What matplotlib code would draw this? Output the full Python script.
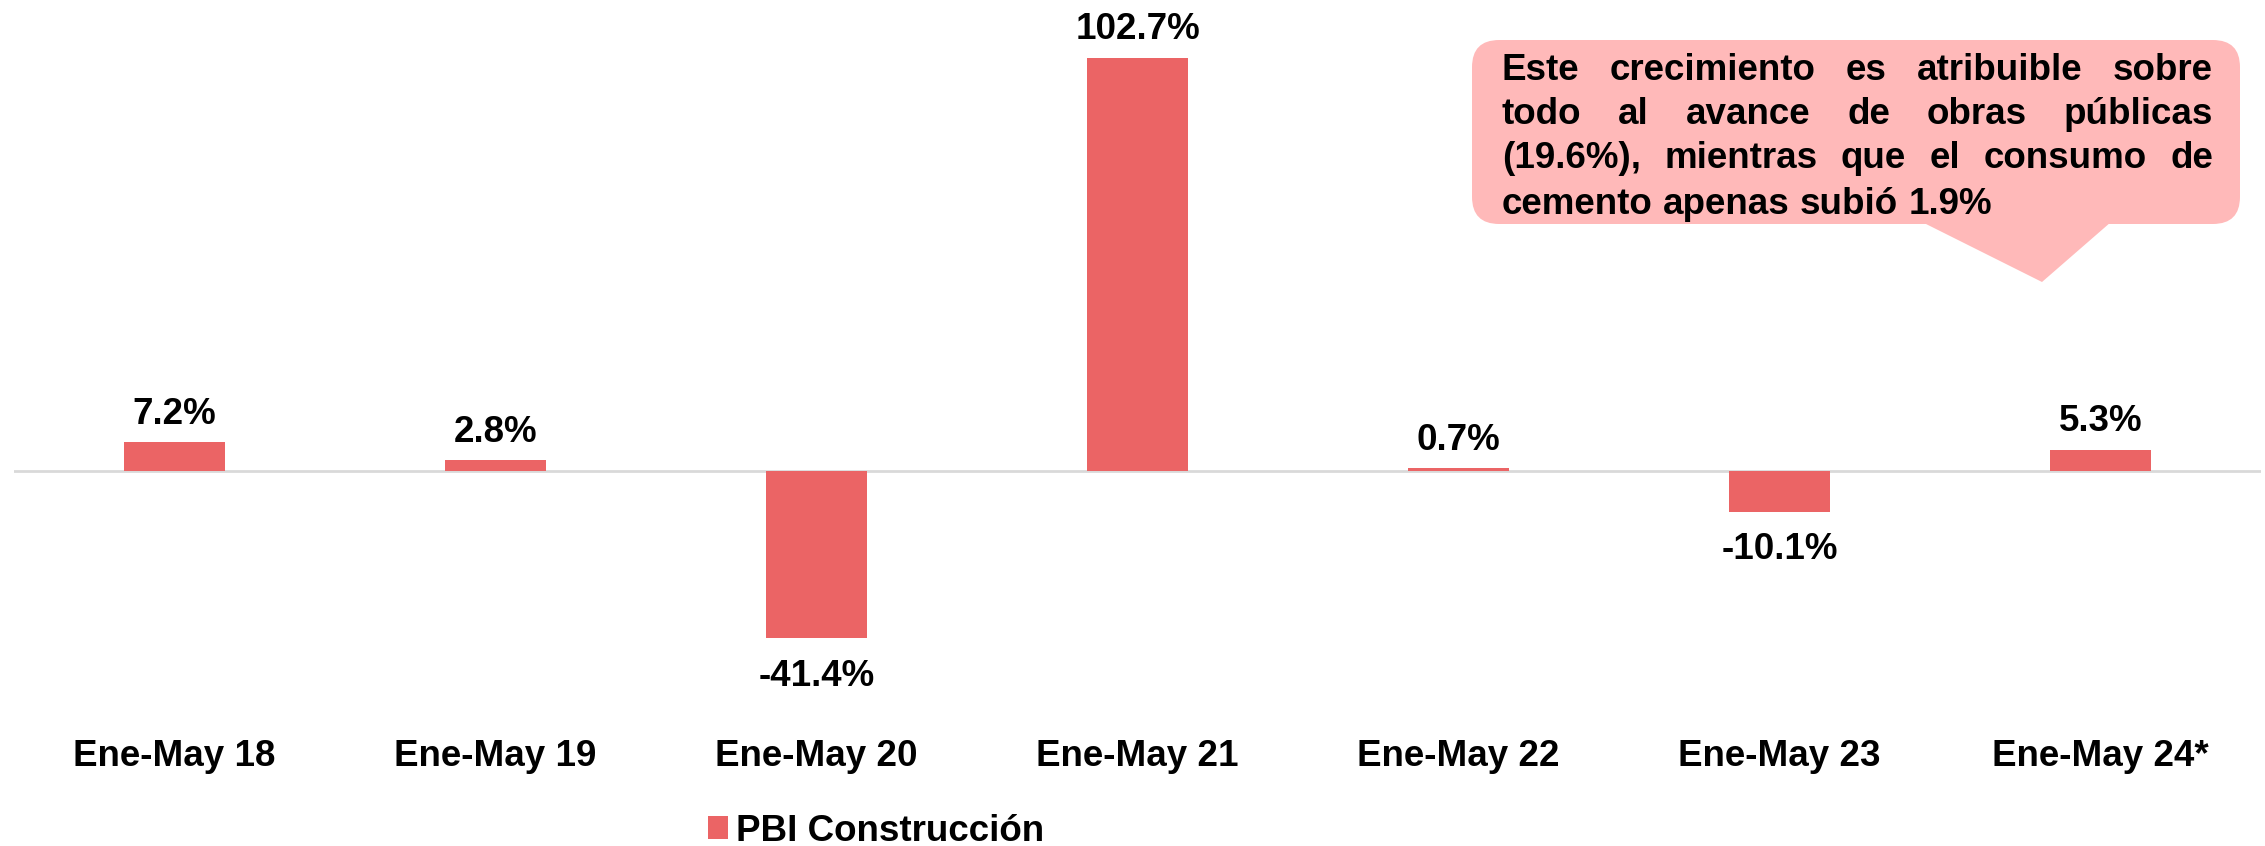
import matplotlib
matplotlib.use("Agg")
import matplotlib.pyplot as plt
from matplotlib.patches import FancyBboxPatch, Polygon

plt.rcParams['font.family'] = ['Liberation Sans', 'DejaVu Sans']
plt.rcParams['font.weight'] = 'bold'

categories = ['Ene-May 18', 'Ene-May 19', 'Ene-May 20', 'Ene-May 21',
              'Ene-May 22', 'Ene-May 23', 'Ene-May 24*']
values = [7.2, 2.8, -41.4, 102.7, 0.7, -10.1, 5.3]
labels = ['7.2%', '2.8%', '-41.4%', '102.7%', '0.7%', '-10.1%', '5.3%']
series_name = 'PBI Construcción'

note_lines = ['Este crecimiento es atribuible sobre',
              'todo al avance de obras públicas',
              '(19.6%), mientras que el consumo de',
              'cemento apenas subió 1.9%']

bar_color = '#EB6465'
box_color = '#FFB9B9'
fs = 26.5

W, H = 2265, 846
fig = plt.figure(figsize=(W / 100, H / 100), dpi=100)

# axes placed in pixels (from top): zero line ~471px, 4.03 px per %
ax = fig.add_axes([14 / W, (H - 713) / H, (2261 - 14) / W, 705 / H])
ax.set_xlim(-0.5, len(categories) - 0.5)
ax.set_ylim(-60, 115)

x = range(len(categories))
bars = ax.bar(x, values, width=0.315, color=bar_color, label=series_name, zorder=2)
ax.axhline(0, color='#D9D9D9', lw=2, zorder=1)

for xi, v, lab in zip(x, values, labels):
    off = 28 if v >= 0 else -38
    ax.annotate(lab, (xi, v), xytext=(0, off), textcoords='offset pixels',
                ha='center', va='center', fontsize=fs, fontweight='bold')

ax.set_xticks(list(x))
ax.set_xticklabels(categories, fontsize=fs, fontweight='bold')
ax.tick_params(axis='x', length=0, pad=19)
ax.set_yticks([])
for s in ax.spines.values():
    s.set_visible(False)

fig.legend(handles=[bars], labels=[series_name], loc='center',
           bbox_to_anchor=(876 / W, 1 - 831 / H), frameon=False,
           prop={'size': fs, 'weight': 'bold'}, handlelength=0.55,
           handleheight=0.55, handletextpad=0.2)

# callout box (pixel coordinates, y from top)
bx0, bx1, by0, by1 = 1472, 2240, 40, 224
box = FancyBboxPatch((bx0 / W, 1 - by1 / H), (bx1 - bx0) / W, (by1 - by0) / H,
                     boxstyle='round,pad=0,rounding_size=0.012',
                     transform=fig.transFigure, facecolor=box_color,
                     edgecolor='none', mutation_aspect=W / H)
fig.add_artist(box)
tail = Polygon([(1922 / W, 1 - (by1 - 2) / H), (2042 / W, 1 - 282 / H),
                (2111 / W, 1 - (by1 - 2) / H)], closed=True,
               transform=fig.transFigure, facecolor=box_color, edgecolor='none')
fig.add_artist(tail)

# justified text inside the callout
tx0, tx1 = 1502, 2213
line_y = [70, 114, 158, 204]
renderer = fig.canvas.get_renderer()
for i, (line, ly) in enumerate(zip(note_lines, line_y)):
    words = line.split(' ')
    texts = [fig.text(0, 1 - ly / H, w, fontsize=fs, fontweight='bold',
                      ha='left', va='center') for w in words]
    widths = [t.get_window_extent(renderer).width for t in texts]
    if i < len(note_lines) - 1:
        gap = (tx1 - tx0 - sum(widths)) / (len(words) - 1)
    else:
        gap = fs * 100 / 72 * 0.278
    cx = tx0
    for t, w in zip(texts, widths):
        t.set_x(cx / W)
        cx += w + gap

fig.savefig('out.png', dpi=100)
